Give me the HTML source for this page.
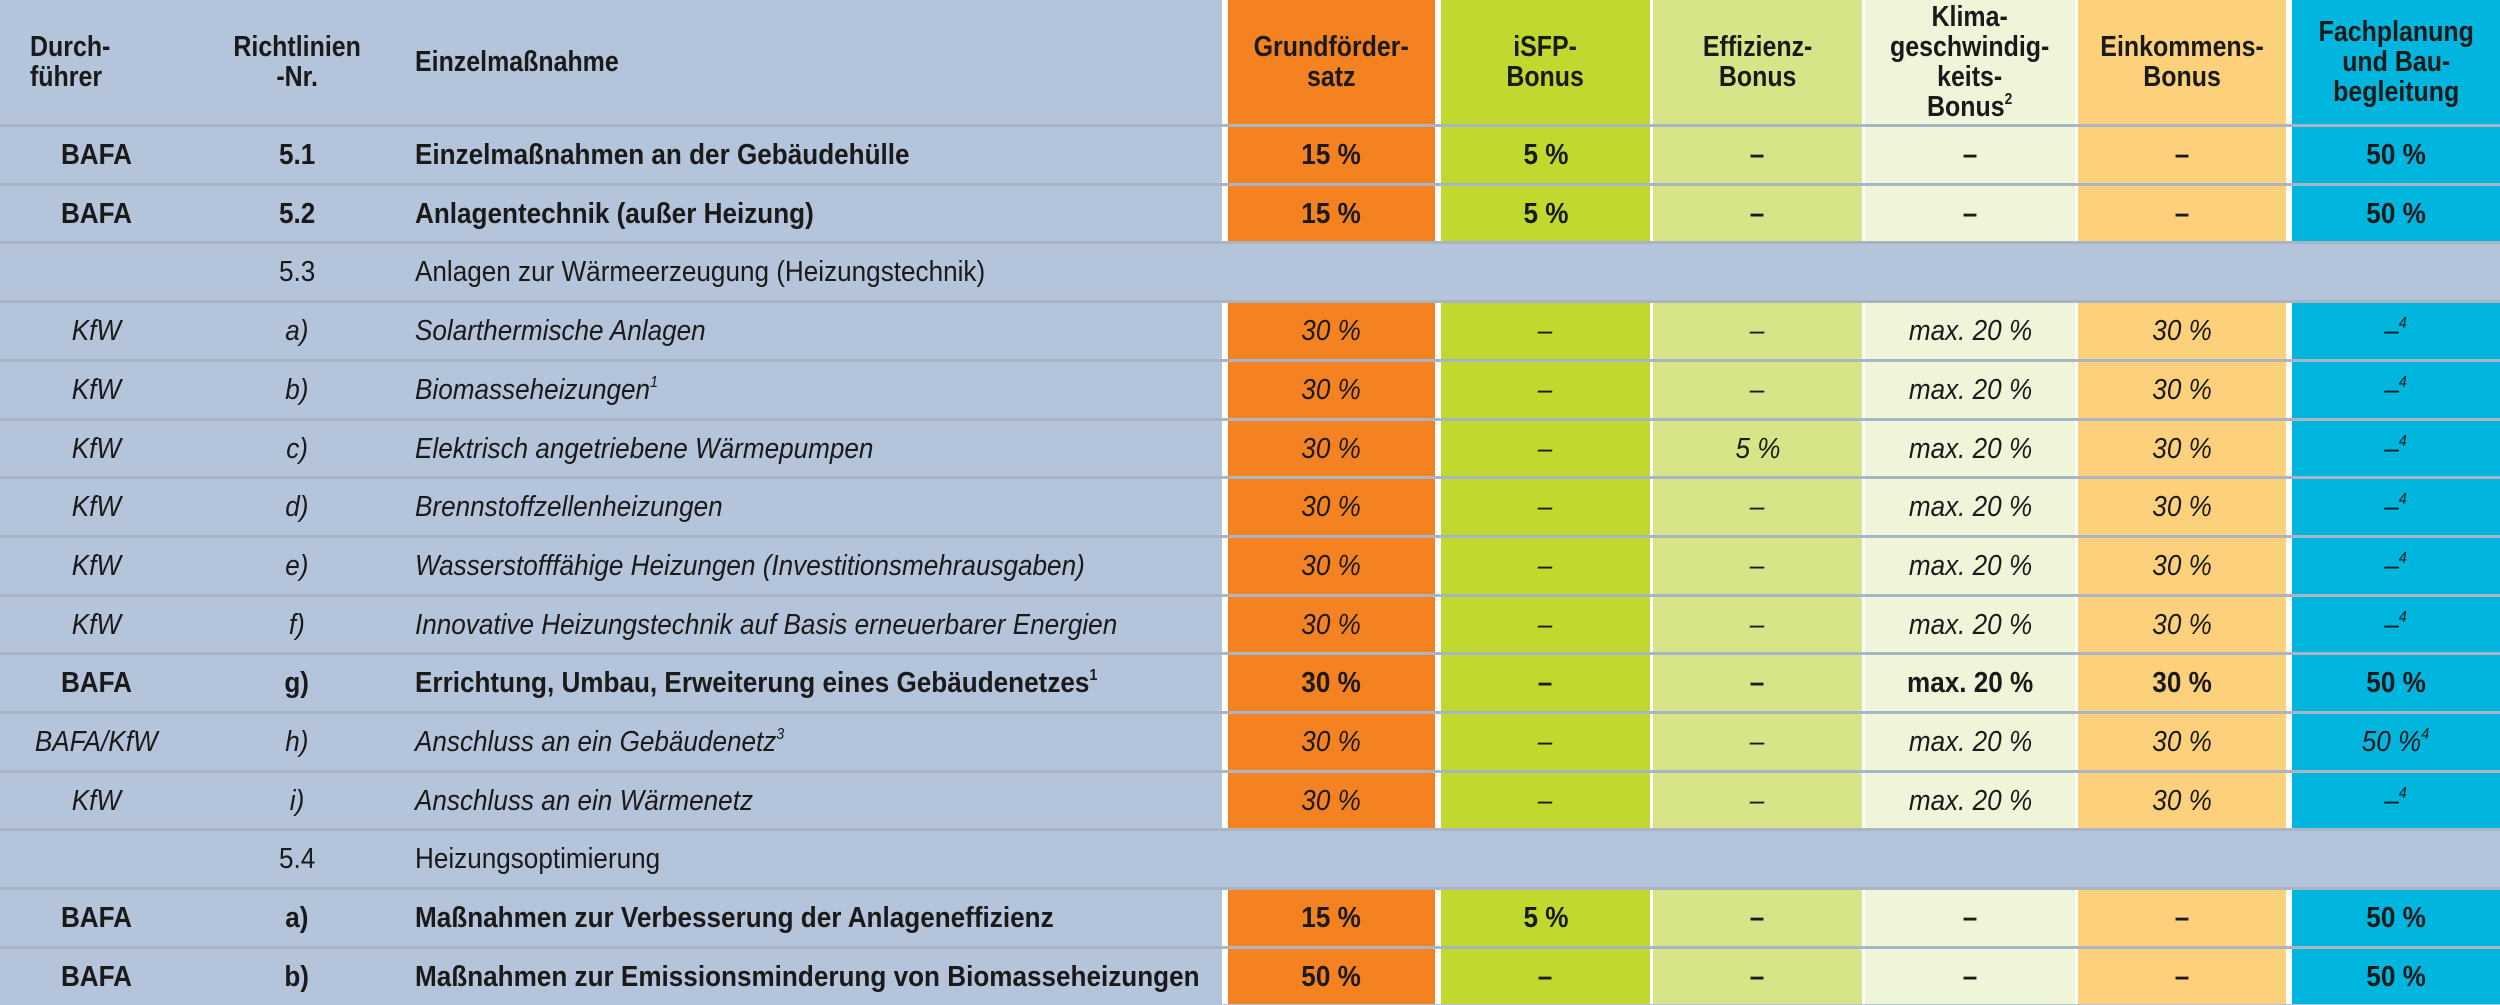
<!DOCTYPE html>
<html><head><meta charset="utf-8"><style>
*{margin:0;padding:0;box-sizing:border-box}
body{width:2500px;height:1004px;position:relative;overflow:hidden;background:#b4c4db;font-family:"Liberation Sans",sans-serif;color:#1a1a1a;font-size:29px}
.s{position:absolute;top:0;height:1004px}
.r{position:absolute;left:0;width:2500px;height:59px;border-top:3px solid #a9b5c4}
.c{position:absolute;top:0;height:56px;line-height:56px;white-space:nowrap;text-align:center}
.c>span{display:inline-block;transform:scaleX(.9)}
.c3>span{transform-origin:left center}
.b{font-weight:bold}.i{font-style:italic}
.span{background:#b4c4db}
.h{position:absolute;top:0;height:124px;display:flex;align-items:center;justify-content:center;text-align:center;font-weight:bold;line-height:30px;font-size:29px}
.h>div{transform:scaleX(.86);white-space:nowrap}
sup{font-size:16px;vertical-align:baseline;position:relative;top:-12px;line-height:0}
.c1{left:0;width:192px}.c2{left:200px;width:194px}.c3{left:415px;text-align:left}
.v1{left:1228px;width:207px}.v2{left:1441px;width:209px}.v3{left:1653px;width:209px}.v4{left:1865px;width:210px}.v5{left:2078px;width:208px}.v6{left:2292px;width:208px}
</style></head><body>
<div class="s" style="left:1222px;width:1278px;background:#fff"></div>
<div class="s" style="left:1228px;width:207px;background:#f58220"></div>
<div class="s" style="left:1441px;width:209px;background:#c1d82f"></div>
<div class="s" style="left:1653px;width:209px;background:#d7e488"></div>
<div class="s" style="left:1865px;width:210px;background:#eff5d8"></div>
<div class="s" style="left:2078px;width:208px;background:#fdd17c"></div>
<div class="s" style="left:2292px;width:208px;background:#00b6de"></div>

<div class="h" style="left:30px;width:130px;justify-content:flex-start;text-align:left"><div style="transform-origin:left center">Durch-<br>führer</div></div>
<div class="h" style="left:200px;width:194px"><div>Richtlinien<br>-Nr.</div></div>
<div class="h" style="left:415px;width:400px;justify-content:flex-start"><div style="transform-origin:left center">Einzelmaßnahme</div></div>
<div class="h v1"><div>Grundförder-<br>satz</div></div>
<div class="h v2"><div>iSFP-<br>Bonus</div></div>
<div class="h v3"><div>Effizienz-<br>Bonus</div></div>
<div class="h v4"><div>Klima-<br>geschwindig-<br>keits-<br>Bonus<sup>2</sup></div></div>
<div class="h v5"><div>Einkommens-<br>Bonus</div></div>
<div class="h v6"><div>Fachplanung<br>und Bau-<br>begleitung</div></div>

<div class="r b" style="top:124px"><div class="c c1"><span>BAFA</span></div><div class="c c2"><span>5.1</span></div><div class="c c3"><span>Einzelmaßnahmen an der Gebäudehülle</span></div><div class="c v1"><span>15 %</span></div><div class="c v2"><span>5 %</span></div><div class="c v3"><span>–</span></div><div class="c v4"><span>–</span></div><div class="c v5"><span>–</span></div><div class="c v6"><span>50 %</span></div></div>
<div class="r b" style="top:182.7px"><div class="c c1"><span>BAFA</span></div><div class="c c2"><span>5.2</span></div><div class="c c3"><span>Anlagentechnik (außer Heizung)</span></div><div class="c v1"><span>15 %</span></div><div class="c v2"><span>5 %</span></div><div class="c v3"><span>–</span></div><div class="c v4"><span>–</span></div><div class="c v5"><span>–</span></div><div class="c v6"><span>50 %</span></div></div>
<div class="r span" style="top:241.4px"><div class="c c2"><span>5.3</span></div><div class="c c3"><span>Anlagen zur Wärmeerzeugung (Heizungstechnik)</span></div></div>
<div class="r i" style="top:300.1px"><div class="c c1"><span>KfW</span></div><div class="c c2"><span>a)</span></div><div class="c c3"><span>Solarthermische Anlagen</span></div><div class="c v1"><span>30 %</span></div><div class="c v2"><span>–</span></div><div class="c v3"><span>–</span></div><div class="c v4"><span>max. 20 %</span></div><div class="c v5"><span>30 %</span></div><div class="c v6"><span>–<sup>4</sup></span></div></div>
<div class="r i" style="top:358.8px"><div class="c c1"><span>KfW</span></div><div class="c c2"><span>b)</span></div><div class="c c3"><span>Biomasseheizungen<sup>1</sup></span></div><div class="c v1"><span>30 %</span></div><div class="c v2"><span>–</span></div><div class="c v3"><span>–</span></div><div class="c v4"><span>max. 20 %</span></div><div class="c v5"><span>30 %</span></div><div class="c v6"><span>–<sup>4</sup></span></div></div>
<div class="r i" style="top:417.5px"><div class="c c1"><span>KfW</span></div><div class="c c2"><span>c)</span></div><div class="c c3"><span>Elektrisch angetriebene Wärmepumpen</span></div><div class="c v1"><span>30 %</span></div><div class="c v2"><span>–</span></div><div class="c v3"><span>5 %</span></div><div class="c v4"><span>max. 20 %</span></div><div class="c v5"><span>30 %</span></div><div class="c v6"><span>–<sup>4</sup></span></div></div>
<div class="r i" style="top:476.2px"><div class="c c1"><span>KfW</span></div><div class="c c2"><span>d)</span></div><div class="c c3"><span>Brennstoffzellenheizungen</span></div><div class="c v1"><span>30 %</span></div><div class="c v2"><span>–</span></div><div class="c v3"><span>–</span></div><div class="c v4"><span>max. 20 %</span></div><div class="c v5"><span>30 %</span></div><div class="c v6"><span>–<sup>4</sup></span></div></div>
<div class="r i" style="top:534.9px"><div class="c c1"><span>KfW</span></div><div class="c c2"><span>e)</span></div><div class="c c3"><span>Wasserstofffähige Heizungen (Investitionsmehrausgaben)</span></div><div class="c v1"><span>30 %</span></div><div class="c v2"><span>–</span></div><div class="c v3"><span>–</span></div><div class="c v4"><span>max. 20 %</span></div><div class="c v5"><span>30 %</span></div><div class="c v6"><span>–<sup>4</sup></span></div></div>
<div class="r i" style="top:593.6px"><div class="c c1"><span>KfW</span></div><div class="c c2"><span>f)</span></div><div class="c c3"><span>Innovative Heizungstechnik auf Basis erneuerbarer Energien</span></div><div class="c v1"><span>30 %</span></div><div class="c v2"><span>–</span></div><div class="c v3"><span>–</span></div><div class="c v4"><span>max. 20 %</span></div><div class="c v5"><span>30 %</span></div><div class="c v6"><span>–<sup>4</sup></span></div></div>
<div class="r b" style="top:652.3px"><div class="c c1"><span>BAFA</span></div><div class="c c2"><span>g)</span></div><div class="c c3"><span>Errichtung, Umbau, Erweiterung eines Gebäudenetzes<sup>1</sup></span></div><div class="c v1"><span>30 %</span></div><div class="c v2"><span>–</span></div><div class="c v3"><span>–</span></div><div class="c v4"><span>max. 20 %</span></div><div class="c v5"><span>30 %</span></div><div class="c v6"><span>50 %</span></div></div>
<div class="r i" style="top:711px"><div class="c c1"><span>BAFA/KfW</span></div><div class="c c2"><span>h)</span></div><div class="c c3"><span>Anschluss an ein Gebäudenetz<sup>3</sup></span></div><div class="c v1"><span>30 %</span></div><div class="c v2"><span>–</span></div><div class="c v3"><span>–</span></div><div class="c v4"><span>max. 20 %</span></div><div class="c v5"><span>30 %</span></div><div class="c v6"><span>50 %<sup>4</sup></span></div></div>
<div class="r i" style="top:769.7px"><div class="c c1"><span>KfW</span></div><div class="c c2"><span>i)</span></div><div class="c c3"><span>Anschluss an ein Wärmenetz</span></div><div class="c v1"><span>30 %</span></div><div class="c v2"><span>–</span></div><div class="c v3"><span>–</span></div><div class="c v4"><span>max. 20 %</span></div><div class="c v5"><span>30 %</span></div><div class="c v6"><span>–<sup>4</sup></span></div></div>
<div class="r span" style="top:828.4px"><div class="c c2"><span>5.4</span></div><div class="c c3"><span>Heizungsoptimierung</span></div></div>
<div class="r b" style="top:887.1px"><div class="c c1"><span>BAFA</span></div><div class="c c2"><span>a)</span></div><div class="c c3"><span>Maßnahmen zur Verbesserung der Anlageneffizienz</span></div><div class="c v1"><span>15 %</span></div><div class="c v2"><span>5 %</span></div><div class="c v3"><span>–</span></div><div class="c v4"><span>–</span></div><div class="c v5"><span>–</span></div><div class="c v6"><span>50 %</span></div></div>
<div class="r b" style="top:945.8px"><div class="c c1"><span>BAFA</span></div><div class="c c2"><span>b)</span></div><div class="c c3"><span>Maßnahmen zur Emissionsminderung von Biomasseheizungen</span></div><div class="c v1"><span>50 %</span></div><div class="c v2"><span>–</span></div><div class="c v3"><span>–</span></div><div class="c v4"><span>–</span></div><div class="c v5"><span>–</span></div><div class="c v6"><span>50 %</span></div></div>
</body></html>
